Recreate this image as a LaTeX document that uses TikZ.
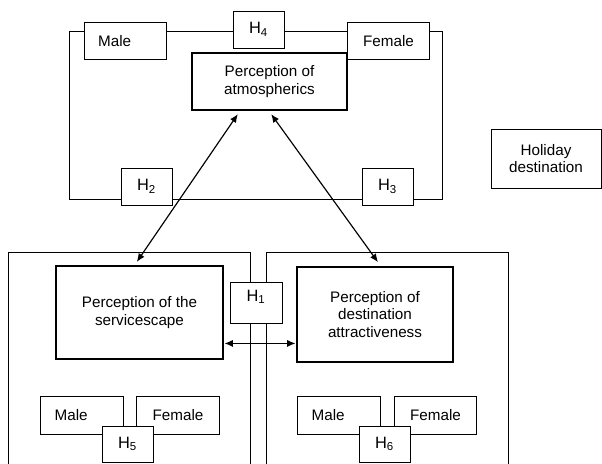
\documentclass[tikz,border=0pt]{standalone}
\usepackage{fontspec}
\setmainfont{Liberation Sans}
\usetikzlibrary{arrows.meta}
\usetikzlibrary{positioning}

\tikzset{
  plain/.style={draw, line width=0.8pt, fill=white, inner sep=0pt, align=center,
    font=\fontsize{13}{15}\selectfont},
  construct/.style={plain, line width=2.5pt},
  gender/.style={plain, minimum width=2.48cm, minimum height=1.12cm},
  male/.style={gender, text width=1.64cm, align=left},
  hyp/.style={plain, minimum width=1.53cm, minimum height=1.11cm,
    font=\fontsize{14}{16}\selectfont},
  both/.style={{Latex[length=2.5mm,width=2.1mm]}-{Latex[length=2.5mm,width=2.1mm]}, line width=1pt},
}

\newcommand{\hyp}[1]{H\textsubscript{#1}}

\begin{document}
\begin{tikzpicture}[x=0.03cm, y=-0.03cm]
\useasboundingbox (0,0) rectangle (602,463);

% outer frames
\draw[line width=0.8pt] (69,31) rectangle (442,199.5);
\draw[line width=0.8pt] (8.5,480) |- (250,252) -- (250,480);
\draw[line width=0.8pt] (266,480) |- (508,252) -- (508,480);

% constructs
\node [construct, minimum width=4.65cm, minimum height=1.71cm] (atmo) at (269.5,81.5)
  {Perception of\\atmospherics};
\node [construct, minimum width=5.01cm, minimum height=2.79cm] (serv) at (139.5,312.5)
  {Perception of the\\servicescape};
\node [construct, minimum width=4.68cm, minimum height=2.85cm] (dest) at (375,314.5)
  {Perception of\\destination\\attractiveness};
\node [plain, minimum width=3.3cm, minimum height=1.77cm] (holiday) at (546,158.5)
  {Holiday\\destination};

% gender groups
\node [male] (male1) at (125.5,41) {Male};
\node [gender] (female1) at (388.5,41) {Female};
\node [male] (male2) at (82,415.5) {Male};
\node [gender] (female2) at (178,415.5) {Female};
\node [male] (male3) at (339,415.5) {Male};
\node [gender] (female3) at (435.5,415.5) {Female};

% hypotheses
\node [hyp] (h4) at (258.5,29.5) {\hyp{4}};
\node [hyp] (h2) at (146.5,186.5) {\hyp{2}};
\node [hyp] (h3) at (387.5,186.5) {\hyp{3}};
\node [hyp, minimum width=1.56cm, minimum height=1.23cm, text depth=0.42cm] (h1) at (256,302.5) {\hyp{1}};
\node [hyp, minimum height=1.08cm] (h5) at (127.5,444) {\hyp{5}};
\node [hyp, minimum height=1.08cm] (h6) at (384.5,444) {\hyp{6}};

% links
\draw [both] ([xshift=-0.95cm,yshift=-0.08cm]atmo.south) -- ([xshift=-0.08cm,yshift=0.08cm]serv.north);
\draw [both] ([xshift=0.05cm,yshift=-0.08cm]atmo.south) -- ([xshift=0.09cm,yshift=0.1cm]dest.north);
\draw [both] (serv.-20.7) -- (serv.-20.7 -| dest.west);
\end{tikzpicture}
\end{document}
